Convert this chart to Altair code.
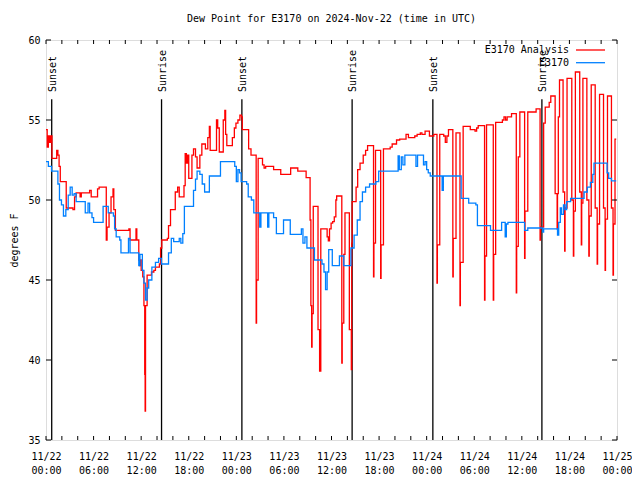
import altair as alt
import pandas as pd

# ---------------- data (hours after 2024-11-22 00:00 UTC, dew point in F) ----------------
red_h = [0.0, 0.15, 0.3, 0.45, 0.6, 0.75, 1.35, 1.5, 1.65, 1.8, 2.55, 3.4, 3.6, 3.8, 4.3, 4.45,
         5.5, 5.7, 6.5, 6.7, 7.6, 7.7, 7.95, 8.2, 8.45, 8.55, 8.75, 10.45, 10.6, 11.35, 11.45,
         11.7, 11.8, 11.9, 12.0, 12.2, 12.35, 12.45, 12.5, 12.55, 12.75, 13.3, 13.6, 13.8, 14.3,
         14.45, 14.6, 15.3, 15.45, 15.7, 16.3, 16.6, 16.8, 17.4, 17.55, 17.7, 17.85, 18.0, 18.4,
         18.6, 18.85, 19.05, 19.4, 19.65, 20.1, 20.4, 20.6, 20.7, 21.5, 21.65, 21.85, 22.35,
         22.55, 22.65, 22.8, 23.5, 23.75, 23.95, 24.2, 24.45, 24.65, 24.75, 25.55, 25.85, 26.5,
         26.55, 26.75, 27.3, 27.5, 27.7, 28.7, 29.6, 30.85, 31.75, 32.8, 33.3, 33.4, 33.5, 33.55,
         33.7, 34.3, 34.5, 34.65, 35.45, 35.6, 35.75, 35.95, 36.15, 36.35, 36.55, 36.65, 37.3,
         37.35, 37.55, 37.7, 38.25, 38.5, 38.55, 38.6, 39.1, 39.3, 39.6, 40.0, 40.3, 40.55, 41.3,
         41.35, 41.55, 42.2, 42.25, 42.55, 43.4, 43.65, 44.2, 44.6, 45.4, 45.7, 46.5, 46.8, 47.2,
         47.4, 47.8, 48.35, 48.9, 49.3, 49.35, 49.65, 50.15, 50.35, 50.55, 50.75, 51.3, 51.35,
         51.7, 52.2, 52.25, 52.6, 53.5, 54.1, 54.3, 54.5, 55.3, 55.35, 55.55, 56.4, 56.45, 56.7,
         57.55, 57.75, 57.95, 58.15, 58.7, 59.3, 59.35, 59.55, 59.75, 60.35, 60.4, 60.75, 61.8,
         62.3, 62.35, 62.75, 62.95, 63.45, 63.65, 64.2, 64.45, 64.5, 64.6, 64.75, 65.2, 65.4,
         65.45, 65.7, 66.3, 66.5, 66.55, 66.75, 67.3, 67.5, 67.55, 67.7, 68.2, 68.45, 68.5, 68.75,
         69.25, 69.5, 69.55, 69.8, 70.3, 70.5, 70.55, 70.8, 71.3, 71.5, 71.55, 71.75, 71.9]
red_v = [54.4, 53.3, 54.0, 53.6, 54.0, 52.6, 53.1, 52.8, 52.1, 51.15, 49.5, 49.4, 50.2, 50.45, 50.2, 50.45,
         50.6, 50.2, 50.7, 50.8, 47.5, 48.3, 49.2, 50.2, 50.7, 49.4, 48.1, 48.2, 47.5, 48.2, 47.5,
         46.25, 45.9, 46.25, 45.6, 45.2, 43.4, 39.1, 36.8, 43.4, 45.3, 45.5, 45.6, 45.8, 46.0,
         47.0, 47.5, 47.6, 48.4, 49.4, 50.5, 50.8, 50.2, 50.9, 52.9, 52.3, 52.8, 51.35, 52.8,
         53.2, 52.7, 52.0, 52.8, 53.5, 53.2, 53.9, 54.6, 53.1, 55.0, 54.5, 53.0, 55.0,
         55.6, 54.1, 53.4, 53.9, 54.5, 54.8, 55.0, 55.3, 55.2, 54.4, 53.2, 52.8, 42.3,
         45.0, 52.6, 52.2, 52.0, 52.1, 51.9, 51.6, 52.0, 51.8, 51.4, 48.75, 43.4, 40.8, 42.9,
         49.6, 41.9, 39.3, 48.2, 47.7, 47.45, 48.2, 48.55, 48.65, 48.95, 50.0, 50.25, 39.8,
         42.3, 46.6, 49.2, 41.9, 39.4, 47.3, 49.9, 50.8, 51.9, 52.3, 52.8, 53.1, 53.4, 45.2,
         47.3, 53.1, 45.1, 47.2, 53.2, 53.3, 53.5, 53.75, 53.8, 54.1, 53.9, 54.0, 54.1, 54.2,
         54.1, 54.3, 54.0, 54.1, 44.8, 47.2, 54.1, 54.0, 53.6, 54.0, 54.4, 45.2, 47.6,
         54.2, 43.4, 46.1, 54.6, 54.4, 54.3, 54.5, 54.65, 43.75, 46.5, 54.7, 43.75, 46.6, 54.85,
         55.0, 55.2, 55.0, 55.2, 55.4, 44.2, 47.1, 52.7, 55.5, 46.35, 49.3, 55.5, 55.7,
         47.5, 48.3, 54.8, 55.8, 56.1, 56.5, 50.4, 48.2, 50.4, 55.2, 57.5, 50.5, 46.8,
         49.5, 57.6, 50.0, 46.5, 49.3, 58.0, 50.5, 47.2, 49.8, 57.6, 50.0, 46.5, 49.0, 57.2,
         49.5, 46.0, 48.5, 56.6, 49.5, 45.6, 48.8, 56.5, 49.5, 45.3, 48.5, 53.8, 53.8]

blue_h = [0.0, 0.3, 0.7, 1.5, 1.7, 1.95, 2.2, 2.5, 2.8, 3.05, 3.3, 3.55, 3.8, 4.95, 5.3, 5.5, 5.8,
          6.0, 7.2, 7.85, 8.5, 8.65, 8.85, 9.3, 9.45, 10.4, 10.6, 11.7, 11.85, 12.15, 12.35, 12.55,
          12.75, 12.95, 13.35, 13.8, 14.2, 14.55, 15.45, 15.8, 16.1, 16.8, 17.0, 17.25, 17.45,
          18.6, 18.85, 19.05, 19.4, 19.7, 20.0, 20.6, 22.0, 23.8, 24.0, 24.2, 24.4, 24.6, 25.3,
          25.5, 25.9, 26.2, 26.95, 27.1, 27.95, 28.1, 28.7, 29.05, 29.95, 30.8, 32.2, 32.4, 32.65,
          32.9, 33.85, 34.8, 35.05, 35.25, 35.45, 35.65, 36.1, 37.0, 37.55, 38.45, 38.85, 39.25,
          39.6, 39.9, 40.3, 40.8, 41.6, 41.95, 44.4, 44.55, 44.8, 45.0, 45.25, 46.65, 46.85, 47.6,
          47.8, 48.0, 48.2, 48.45, 49.95, 50.1, 52.35, 53.3, 54.2, 54.4, 56.05, 57.45, 57.9, 58.05,
          58.25, 60.35, 60.75, 62.65, 62.75, 64.5, 64.65, 64.85, 65.0, 65.25, 65.45, 65.65, 66.15,
          67.85, 68.25, 68.65, 68.95, 69.1, 70.75, 70.95, 71.3, 71.9]
blue_v = [52.4, 52.1, 51.8, 51.0, 50.0, 49.7, 49.0, 49.4, 50.3, 50.8, 50.3, 50.4, 49.9, 49.2, 49.8, 49.2, 48.9,
          48.6, 49.6, 49.2, 49.0, 48.2, 47.7, 47.5, 46.7, 47.6, 46.7, 45.9, 46.6, 45.6, 44.8, 43.75,
          44.5, 45.0, 45.8, 46.1, 46.35, 46.0, 46.7, 47.6, 47.4, 47.6, 47.3, 47.9, 49.6,
          50.6, 51.3, 51.8, 51.6, 51.0, 50.5, 51.5, 52.4, 52.1, 51.15, 51.9, 51.7, 51.15, 51.0,
          50.2, 50.0, 49.2, 48.3, 49.2, 48.3, 49.2, 48.9, 47.9, 48.75, 47.85, 48.2, 47.3, 47.7,
          47.0, 46.25, 46.0, 45.5, 44.4, 45.5, 46.9, 45.9, 46.5, 45.9, 47.0, 47.8, 48.75,
          49.9, 50.5, 50.8, 51.0, 51.15, 51.8, 52.75, 51.9, 52.7, 52.2, 52.8, 52.1, 52.8, 52.2,
          52.4, 51.9, 51.7, 51.5, 50.6, 51.5, 50.1, 49.8, 49.7, 48.4, 48.1, 48.6, 47.7, 48.5,
          48.6, 48.1, 48.25, 48.0, 48.2, 47.8, 48.6, 49.5, 49.1, 49.7, 49.4, 49.9, 50.1,
          50.5, 50.8, 51.1, 51.6, 52.3, 51.7, 51.35, 51.2, 51.2]

sun_labels = ["Sunset", "Sunrise", "Sunset", "Sunrise", "Sunset", "Sunrise"]
sun_hours = [0.72, 14.57, 24.7, 38.6, 48.78, 62.53]

x_label_hours = [0, 6, 12, 18, 24, 30, 36, 42, 48, 54, 60, 66, 72]
x_tick_hours = [0, 2, 4, 6, 8, 10, 12, 14, 16, 18, 20, 22, 24, 26, 28, 30, 32, 34, 36, 38, 40,
                42, 44, 46, 48, 50, 52, 54, 56, 58, 60, 62, 64, 66, 68, 70, 72]
y_ticks = [35, 40, 45, 50, 55, 60]

series_names = ["E3170 Analysis", "E3170"]
series_colors = ["#ff0000", "#0080ff"]

FONT = "DejaVu Sans Mono"
BASE = pd.Timestamp("2024-11-22T00:00:00Z")
W, H = 571, 400


def ts(h):
    return (BASE + pd.to_timedelta(h, unit="h")).strftime("%Y-%m-%dT%H:%M:%SZ")


def dt(h):
    return alt.DateTime(year=2024, month=11, date=22 + h // 24, hours=h % 24, utc=True)


red_df = pd.DataFrame({"time": [ts(h) for h in red_h], "dew": red_v})
blue_df = pd.DataFrame({"time": [ts(h) for h in blue_h], "dew": blue_v})
sun_df = pd.DataFrame({"time": [ts(h) for h in sun_hours], "label": sun_labels})
xt_df = pd.DataFrame({"time": [ts(h) for h in x_tick_hours]})
yt_df = pd.DataFrame({"dew": y_ticks})
one = pd.DataFrame({"k": [0]})

xscale = alt.Scale(type="utc", domain=[dt(0), dt(72)])
yscale = alt.Scale(domain=[35, 60], nice=False, zero=False)

x_axis = alt.Axis(
    values=[dt(h) for h in x_label_hours],
    labelExpr="[utcFormat(datum.value, '%m/%d'), utcFormat(datum.value, '%H:%M')]",
    ticks=False, domain=False, grid=False, title=None,
    labelFont=FONT, labelFontSize=10, labelColor="black",
    labelPadding=11, labelLineHeight=14, labelFlush=False, labelOverlap=False,
)
y_axis = alt.Axis(
    values=y_ticks, ticks=False, domain=False, grid=False,
    title="degrees F", titleFont=FONT, titleFontSize=10, titleFontWeight="normal",
    titleColor="black", titlePadding=8,
    labelFont=FONT, labelFontSize=10, labelColor="black", labelPadding=6,
)

X = alt.X("time:T", scale=xscale, axis=x_axis)
Y = alt.Y("dew:Q", scale=yscale, axis=y_axis)

sun_rules = alt.Chart(sun_df).mark_rule(color="black", strokeWidth=1.3).encode(
    x=alt.X("time:T", scale=xscale), y=alt.datum(35), y2=alt.datum(56.3)
)
sun_text = alt.Chart(sun_df).mark_text(
    angle=270, align="left", baseline="middle", font=FONT, fontSize=10, color="black", dy=1
).encode(x=alt.X("time:T", scale=xscale), y=alt.datum(56.75), text="label:N")

red_line = alt.Chart(red_df).mark_line(
    color=series_colors[0], strokeWidth=1.3, interpolate="step-after", clip=True
).encode(x=X, y=Y)
blue_line = alt.Chart(blue_df).mark_line(
    color=series_colors[1], strokeWidth=1.3, interpolate="step-after", clip=True
).encode(x=X, y=Y)

tick_len = 4
xt_bottom = alt.Chart(xt_df).mark_rule(color="black", strokeWidth=1).encode(
    x=alt.X("time:T", scale=xscale), y=alt.value(H), y2=alt.value(H - tick_len))
xt_top = alt.Chart(xt_df).mark_rule(color="black", strokeWidth=1).encode(
    x=alt.X("time:T", scale=xscale), y=alt.value(0), y2=alt.value(tick_len))
yt_left = alt.Chart(yt_df).mark_rule(color="black", strokeWidth=1).encode(
    y=alt.Y("dew:Q", scale=yscale), x=alt.value(0), x2=alt.value(tick_len + 1))
yt_right = alt.Chart(yt_df).mark_rule(color="black", strokeWidth=1).encode(
    y=alt.Y("dew:Q", scale=yscale), x=alt.value(W), x2=alt.value(W - tick_len - 1))

legend_layers = []
for i, (name, col) in enumerate(zip(series_names, series_colors)):
    ypos = 10 + i * 12.7
    legend_layers.append(
        alt.Chart(one).mark_text(align="right", baseline="middle", font=FONT, fontSize=10,
                                 color="black").encode(
            x=alt.value(W - 48), y=alt.value(ypos), text=alt.value(name)))
    legend_layers.append(
        alt.Chart(one).mark_rule(color=col, strokeWidth=1.3).encode(
            x=alt.value(W - 41), x2=alt.value(W - 12), y=alt.value(ypos)))

chart = alt.layer(
    sun_rules, red_line, blue_line, sun_text, xt_bottom, xt_top, yt_left, yt_right, *legend_layers
).properties(
    width=W, height=H,
    title=alt.TitleParams("Dew Point for E3170 on 2024-Nov-22 (time in UTC)", font=FONT,
                          fontSize=10, fontWeight="normal", color="black", anchor="middle",
                          offset=11),
    autosize=alt.AutoSizeParams(type="none"),
    padding={"left": 38, "top": 32, "right": 15, "bottom": 40},
).configure_view(stroke="black", strokeWidth=1).configure(background="white")

chart.save("out.html", embed_options={"renderer": "svg", "actions": False})
